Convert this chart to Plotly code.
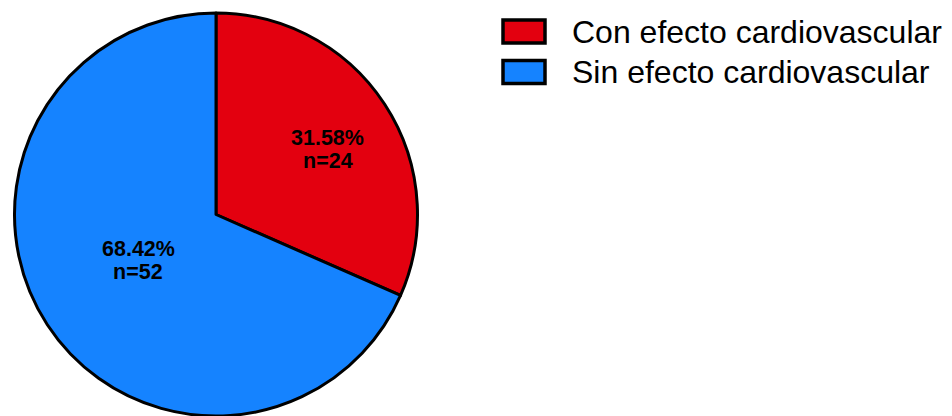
import math
import plotly.graph_objects as go

# Category data
categories = ["Con efecto cardiovascular", "Sin efecto cardiovascular"]
counts = [24, 52]
colors = ["#E3000F", "#1583FF"]

W, H = 952, 416

# Pie placement in pixels
cx, cy, r = 216.0, 214.5, 201.5

fig = go.Figure()

fig.add_trace(go.Pie(
    labels=categories,
    values=counts,
    sort=False,
    direction="clockwise",
    rotation=0,
    marker=dict(colors=colors, line=dict(color="black", width=3)),
    textinfo="none",
    hoverinfo="label+value+percent",
    showlegend=False,
    domain=dict(x=[(cx - r) / W, (cx + r) / W], y=[0, 403 / H]),
))

# Percentage / count labels, placed near each slice's bisector
total = sum(counts)
radial_frac = [0.643, 0.448]
angle_shift = math.radians(2.8)
line_gap = 11.5
label_font = dict(family="Liberation Sans, Arial", size=21.5, color="black", weight="bold")
start = 0.0
for n, frac in zip(counts, radial_frac):
    share = n / total
    mid = (start + share / 2) * 2 * math.pi + angle_shift  # clockwise from 12 o'clock
    start += share
    px = cx + frac * r * math.sin(mid)
    py = cy - frac * r * math.cos(mid)
    for txt, dy in ((f"{share * 100:.2f}%", -line_gap), (f"n={n}", line_gap)):
        fig.add_annotation(
            x=px / W, y=1 - (py + dy) / H, xref="paper", yref="paper",
            text=txt, showarrow=False, xanchor="center", yanchor="middle",
            font=label_font,
        )

# Legend drawn as boxes with labels to the right of the pie
legend_x0, legend_x1 = 503, 545
row_centers = [31.5, 72]
box_half = 11.5
for name, col, yc in zip(categories, colors, row_centers):
    fig.add_shape(
        type="rect", xref="paper", yref="paper",
        x0=legend_x0 / W, x1=legend_x1 / W,
        y0=1 - (yc - box_half) / H, y1=1 - (yc + box_half) / H,
        fillcolor=col, line=dict(color="black", width=3.5),
    )
    fig.add_annotation(
        x=570 / W, y=1 - yc / H, xref="paper", yref="paper",
        text=name, showarrow=False, xanchor="left", yanchor="middle",
        font=dict(family="Liberation Sans, Arial", size=32, color="black"),
    )

fig.update_layout(
    width=W, height=H,
    margin=dict(l=0, r=0, t=0, b=0),
    paper_bgcolor="white",
    plot_bgcolor="white",
)

fig.write_html("out.html")
